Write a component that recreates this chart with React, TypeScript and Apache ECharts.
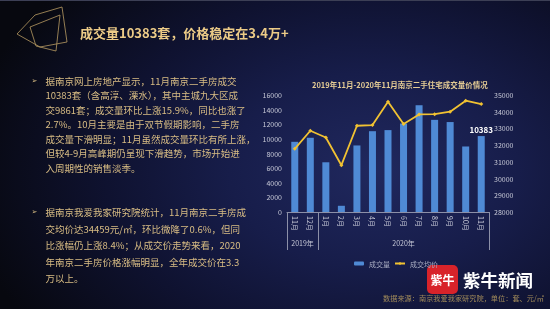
import React, { useEffect, useRef } from "react";
import * as echarts from "echarts";

const months = ["11月", "12月", "1月", "2月", "3月", "4月", "5月", "6月", "7月", "8月", "9月", "10月", "11月"];
const years = ["2019年", "2020年"];
const volumes = [9600, 10150, 6800, 850, 9100, 11050, 11200, 12100, 14600, 12600, 12300, 8960, 10383];
const prices = [31780, 32860, 32460, 30800, 33160, 33200, 34600, 33260, 33840, 33850, 34000, 34660, 34459];
const leftTicks = { min: 0, max: 16000, interval: 2000 };
const rightTicks = { min: 28000, max: 35000, interval: 1000 };
const seriesNames = ["成交量", "成交均价"];
const chartTitle = "2019年11月-2020年11月南京二手住宅成交量价情况";
const mainTitle = "成交量10383套，价格稳定在3.4万+";
const para1 = [
  "据南京网上房地产显示，11月南京二手房成交",
  "10383套（含高淳、溧水），其中主城九大区成",
  "交9861套；成交量环比上涨15.9%，同比也涨了",
  "2.7%。10月主要是由于双节假期影响，二手房",
  "成交量下滑明显；11月虽然成交量环比有所上涨，",
  "但较4-9月高峰期仍呈现下滑趋势，市场开始进",
  "入周期性的销售淡季。",
];
const para2 = [
  "据南京我爱我家研究院统计，11月南京二手房成",
  "交均价达34459元/㎡，环比微降了0.6%，但同",
  "比涨幅仍上涨8.4%；从成交价走势来看，2020",
  "年南京二手房价格涨幅明显，全年成交价在3.3",
  "万以上。",
];
const sourceText = "数据来源：南京我爱我家研究院，单位：套、元/㎡";

const FONT = "'Noto Sans CJK SC', 'Noto Sans', sans-serif";
const GOLD = "#d9bd84";

export default function App() {
  const ref = useRef<HTMLDivElement>(null);
  useEffect(() => {
    if (!ref.current) return;
    const chart = echarts.init(ref.current, undefined, { renderer: "svg" });
    const axisLabel = { color: "#c6c8d6", fontSize: 7, fontFamily: FONT };
    const graphics: any[] = [];
    graphics.push({ type: "rect", shape: { x: 0, y: 0, width: 550, height: 1 }, style: { fill: "#3c3f55" } });
    graphics.push({
      type: "polygon",
      shape: { points: [[17, 34], [35, 15], [62, 7], [67, 42], [40, 47]] },
      style: { fill: "none", stroke: "#b89b62", lineWidth: 0.8 },
    });
    graphics.push({
      type: "polygon",
      shape: { points: [[30, 27], [60, 15], [56, 51], [36, 46]] },
      style: { fill: "none", stroke: "#b89b62", lineWidth: 0.8 },
    });
    graphics.push({
      type: "text",
      x: 80,
      y: 32,
      style: { text: mainTitle, fill: "#eccb87", font: `bold 13px ${FONT}`, verticalAlign: "middle", align: "left" },
    });
    const addPara = (lines: string[], y0: number, dy: number) => {
      graphics.push({
        type: "text",
        x: 34.5,
        y: y0,
        style: { text: "➢", fill: GOLD, font: `7px 'DejaVu Sans'`, verticalAlign: "middle", align: "center" },
      });
      lines.forEach((l, i) => {
        graphics.push({
          type: "text",
          x: 45.5,
          y: y0 + i * dy,
          style: { text: l, fill: GOLD, font: `9.5px ${FONT}`, verticalAlign: "middle", align: "left" },
        });
      });
    };
    addPara(para1, 80.5, 14.5);
    addPara(para2, 212.3, 16.5);
    graphics.push({
      type: "text",
      x: 383,
      y: 298,
      style: { text: sourceText, fill: "#a08a5a", font: `7.2px ${FONT}`, verticalAlign: "middle", align: "left" },
    });
    graphics.push({
      type: "rect",
      shape: { x: 427, y: 265, width: 31, height: 29, r: 5 },
      style: { fill: "#d8232a" },
    });
    graphics.push({
      type: "text",
      x: 442.5,
      y: 279.5,
      style: { text: "紫牛", fill: "#ffffff", font: `bold 12px ${FONT}`, verticalAlign: "middle", align: "center" },
    });
    graphics.push({
      type: "text",
      x: 463,
      y: 279.5,
      style: { text: "紫牛新闻", fill: "#ffffff", font: `bold 17.5px ${FONT}`, verticalAlign: "middle", align: "left" },
    });

    chart.setOption({
      animation: false,
      backgroundColor: "transparent",
      textStyle: { fontFamily: FONT },
      title: {
        text: chartTitle,
        left: 307,
        top: 76,
        textStyle: { color: "#e4cb94", fontSize: 7.5, fontWeight: "bold", fontFamily: FONT },
      },
      legend: {
        left: 349,
        top: 255,
        itemWidth: 10,
        itemHeight: 4,
        itemGap: 4,
        textStyle: { color: "#a9adc2", fontSize: 7, fontFamily: FONT },
        data: seriesNames,
      },
      grid: { left: 287, right: 61, top: 95, bottom: 97 },
      xAxis: [
        {
          type: "category",
          data: months,
          axisLine: { show: true, lineStyle: { color: "#8c90a8", width: 1 } },
          axisTick: {
            show: true,
            interval: (i: number) => i === 0 || i === 2,
            length: 38,
            lineStyle: { color: "#8c90a8", width: 1 },
          },
          axisLabel: { ...axisLabel, rotate: -90, margin: 4, interval: 0 },
        },
        {
          type: "value",
          position: "bottom",
          offset: 24,
          min: -0.5,
          max: 12.5,
          interval: 0.5,
          axisLine: { show: false },
          axisTick: { show: false },
          splitLine: { show: false },
          axisLabel: {
            ...axisLabel,
            margin: 3,
            formatter: (v: number) => (Math.abs(v - 0.5) < 1e-6 ? years[0] : Math.abs(v - 7) < 1e-6 ? years[1] : ""),
          },
        },
      ],
      yAxis: [
        {
          type: "value",
          ...leftTicks,
          axisLine: { show: false },
          axisTick: { show: false },
          splitLine: { show: false },
          axisLabel: { ...axisLabel, margin: 5, formatter: (v: number) => String(v) },
        },
        {
          type: "value",
          ...rightTicks,
          axisLine: { show: false },
          axisTick: { show: false },
          splitLine: { show: false },
          axisLabel: { ...axisLabel, margin: 5, formatter: (v: number) => String(v) },
        },
      ],
      series: [
        {
          name: seriesNames[0],
          type: "bar",
          xAxisIndex: 0,
          yAxisIndex: 0,
          barWidth: 7,
          itemStyle: { color: "#4f8ad5" },
          data: volumes.map((v, i) =>
            i === volumes.length - 1
              ? {
                  value: v,
                  label: {
                    show: true,
                    position: "top",
                    distance: 3,
                    color: "#ffffff",
                    fontWeight: "bold",
                    fontSize: 8,
                    fontFamily: FONT,
                  },
                }
              : v
          ),
        },
        {
          name: seriesNames[1],
          type: "line",
          xAxisIndex: 0,
          yAxisIndex: 1,
          symbol: "diamond",
          symbolSize: 4,
          lineStyle: { color: "#f1c232", width: 1.8 },
          itemStyle: { color: "#f1c232" },
          data: prices,
        },
      ],
      graphic: graphics,
    });
    return () => chart.dispose();
  }, []);
  return (
    <div
      style={{
        position: "fixed",
        left: 0,
        top: 0,
        width: 550,
        height: 309,
        background:
          "radial-gradient(ellipse 75% 90% at 68% 55%, #20285e 0%, #171d4a 35%, #0f1230 65%, #07080f 100%)",
      }}
    >
      <div ref={ref} style={{ width: 550, height: 309 }} />
    </div>
  );
}
